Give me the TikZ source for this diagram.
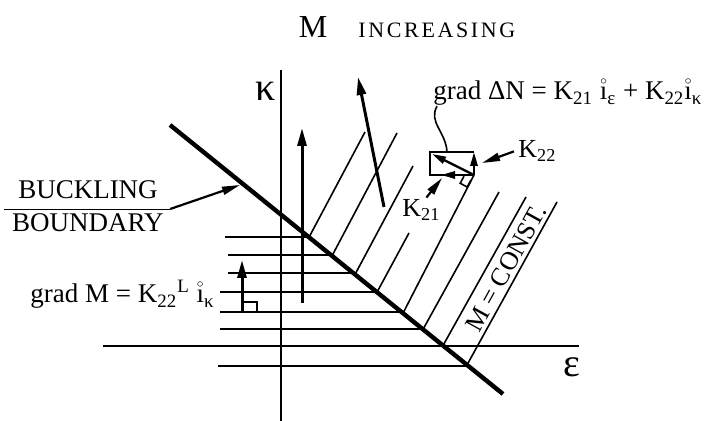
\documentclass[tikz,border=0pt]{standalone}
\usepackage{amsmath}
\usepackage{fontspec}
\setmainfont{Liberation Serif}
\usetikzlibrary{arrows.meta,calc}
\newcommand\uvec{\ensuremath{\mathring{\text{ı}}}}
\tikzset{
  >={Triangle[length=9pt,width=4.5pt]},
  thinln/.style ={line width=0.8pt},
  bound/.style  ={line width=2.2pt},
  vec/.style    ={->,line width=1.5pt},
  svec/.style   ={->,line width=1.2pt,>={Triangle[length=7pt,width=3.6pt]}},
  ptr/.style    ={->,line width=1.1pt,>={Triangle[length=9pt,width=4pt]}},
  lbl/.style    ={inner sep=0pt,font=\fontsize{13.5}{16}\selectfont},
  big/.style    ={inner sep=0pt,font=\fontsize{20}{22}\selectfont},
}

\begin{document}
\begin{tikzpicture}[x=0.5pt,y=-0.5pt]
\useasboundingbox (0,0) rectangle (712,421);

% axes
\coordinate (eL) at (103,346); \coordinate (eR) at (579,346);
\coordinate (kT) at (281,70);  \coordinate (kB) at (281,421);
\draw[thinln] (eL) -- (eR);
\draw[thinln] (kT) -- (kB);
\node[big] (kap) at (266,91) {κ};
\node[big] (eps) at (572,367) {ε};

% buckling boundary
\coordinate (bA) at (170,125); \coordinate (bB) at (503,394);
\draw[bound] (bA) -- (bB);

% M = const, below the boundary
\foreach \y/\xs in {237/225,255/228,273/228,292/220,312/220,329/220,366/218}{
  \pgfmathsetmacro\xe{170+(\y-125)/269*333}
  \draw[thinln] (\xs,\y) -- (\xe,\y);
}
% M = const, above the boundary
\foreach \xs/\xe/\ye in {309/365/132,332/397/133,355/413/166,377/409/233,
                         403/474/175,423/499/192,443/526/197,467/557/202}{
  \pgfmathsetmacro\ys{125+(\xs-170)/333*269}
  \draw[thinln] (\xs,\ys) -- (\xe,\ye);
}

% gradients
\draw[vec] (302,303) -- (302,128);
\draw[vec] (384,207) -- (358,77);
\draw[vec] (242,312) -- (242,260);
\draw[thinln] (242,302) -| (257,312);

% components of grad DeltaN
\coordinate (rc) at (474,175);
\coordinate (rt) at (447,152);
\draw[thinln] (rc) -- (430,175) |- (474,152);
\draw[svec] (rc) -- (441,175);
\draw[svec] (rc) -- (474,152);
\draw[svec] (rc) -- (432,154);
\draw[thinln] (471,180) -- (467.2,187) -- (460.2,183.3) -- (464,176.2);

% labels
\node[inner sep=0pt,anchor=base,font=\fontsize{16}{18}\selectfont] (minc) at (313,38) {M};
\node[inner sep=0pt,anchor=base west,font=\fontsize{11}{13}\selectfont\addfontfeature{LetterSpace=12}]
  (inc) at (358,38) {INCREASING};
\node[lbl] (buck) at (87,209) {\begin{tabular}{@{\hspace{4pt}}c@{\hspace{3pt}}}BUCKLING\\\hline BOUNDARY\end{tabular}};
\node[lbl,anchor=base west] (gm) at (30,303)
  {grad M = K$_{\text{22}}{}^{\text{L}}$ \uvec$_{\text{κ}}$};
\node[lbl,anchor=base west] (gn) at (433,100)
  {grad ΔN = K$_{\text{21}}$ \uvec$_{\text{ε}}$ + K$_{\text{22}}$\uvec$_{\text{κ}}$};
\node[lbl,anchor=base west,font=\fontsize{13}{15}\selectfont] (k21) at (402,217) {K$_{\text{21}}$};
\node[lbl,anchor=base west,font=\fontsize{13}{15}\selectfont] (k22) at (518,158) {K$_{\text{22}}$};
\node[lbl,rotate=61,font=\fontsize{13}{15}\selectfont] (mc) at (506,268) {M = CONST.};

% pointers
\coordinate (bhit) at (240,185);
\coordinate (k21hit) at (442,178);
\coordinate (k22hit) at (482,163);
\draw[ptr] (buck.east) -- (bhit);
\draw[ptr] ($(k21.north)+(5,-2)$) -- (k21hit);
\draw[ptr] ([xshift=-2pt]k22.west) -- (k22hit);
\draw[thinln] ($(gn.south west)+(4,0)$) .. controls (428,122) and (446,132) .. (rt);
\end{tikzpicture}
\end{document}
